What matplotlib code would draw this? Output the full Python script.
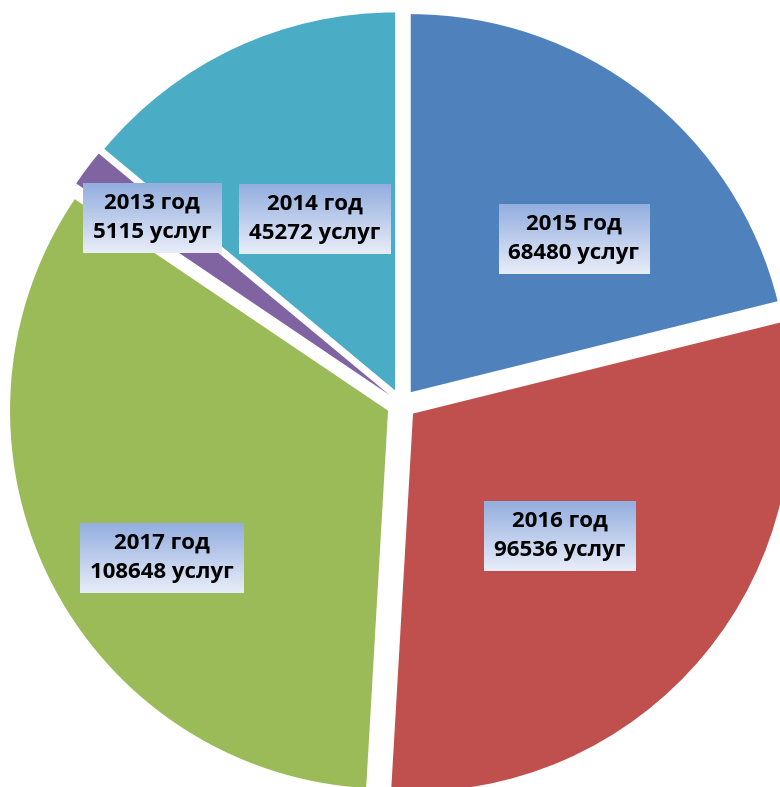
import matplotlib
matplotlib.use('Agg')
import matplotlib.pyplot as plt
import numpy as np

# Data
years = ['2015', '2016', '2017', '2013', '2014']
services = [68480, 96536, 108648, 5115, 45272]
colors = ['#4f81bd', '#c0504d', '#9bbb59', '#8064a2', '#4bacc6']

# label centers (pixels, from top-left)
label_pos = [(574, 239), (560, 536), (162, 558), (152, 218), (315, 219)]

W, H = 780, 787
fig = plt.figure(figsize=(W / 100, H / 100), dpi=100)
ax = fig.add_axes([0, 0, 1, 1])

radius = 378
center = (401.5, H - 404)
# explode is in data units here (pixels)
ax.pie(services, colors=colors, startangle=90, counterclock=False,
       radius=radius, center=center, explode=[15] * len(services),
       wedgeprops=dict(linewidth=0))
ax.set_xlim(0, W)
ax.set_ylim(0, H)
ax.set_aspect('auto')
ax.axis('off')

texts = []
for yr, val, (px, py) in zip(years, services, label_pos):
    t = ax.text(px, H - py, f'{yr} год\n{val} услуг', ha='center', va='center',
                fontsize=16, fontweight='bold', family=['Open Sans', 'DejaVu Sans'],
                linespacing=1.5, zorder=5,
                bbox=dict(boxstyle='square,pad=0.45', fc='none', ec='none'))
    texts.append(t)

# gradient fill behind each label box
fig.canvas.draw()
inv = ax.transData.inverted()
grad = np.linspace(0, 1, 100).reshape(-1, 1)
cmap = matplotlib.colors.LinearSegmentedColormap.from_list('box', ['#93aedf', '#e8edf8'])
for t in texts:
    bb = t.get_bbox_patch().get_window_extent()
    (x0, y0), (x1, y1) = inv.transform([(bb.x0, bb.y0), (bb.x1, bb.y1)])
    ax.imshow(grad, extent=(x0, x1, y0, y1), origin='upper', cmap=cmap,
              aspect='auto', zorder=4)
ax.set_xlim(0, W)
ax.set_ylim(0, H)

fig.savefig('out.png', dpi=100)
